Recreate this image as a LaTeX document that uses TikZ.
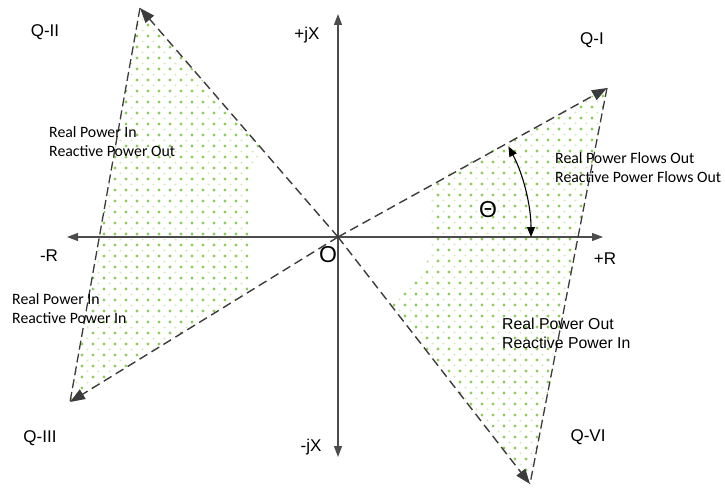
\documentclass[tikz,border=0pt]{standalone}
\usepackage{fontspec}
\setmainfont{Liberation Sans}
\newfontfamily\calfont{Carlito}
\usepackage{tikz}
\usetikzlibrary{arrows.meta, calc}
\definecolor{dotgreen}{HTML}{8FCC5C}
\definecolor{raygray}{HTML}{3C3C3C}
\tikzset{
  axisline/.style={draw=black!70, line width=1.1pt, -{Triangle[length=11pt,width=8pt]}},
  rayline/.style={draw=raygray, line width=1.4pt, dash pattern=on 9pt off 5pt, -{Triangle[length=15pt,width=11pt]}},
  edgeline/.style={draw=raygray, line width=1.3pt, dash pattern=on 9pt off 4pt},
  quadlbl/.style={font=\fontsize{17}{17}\selectfont, inner sep=0pt},
  axislbl/.style={font=\fontsize{17}{17}\selectfont, inner sep=0pt},
  flowlbl/.style={font=\calfont\fontsize{15.8}{19}\selectfont, align=left, anchor=north west, inner sep=0pt},
  flowlblb/.style={font=\fontsize{15.8}{19}\selectfont, align=left, anchor=north west, inner sep=0pt}
}
\begin{document}
\begin{tikzpicture}[x=1pt, y=-1pt]
  \useasboundingbox (0,0) rectangle (725,489);
  % key points
  \coordinate (O) at (338,237);
  \coordinate (q1) at (607,88);
  \coordinate (q2) at (140,8);
  \coordinate (q3) at (70,402);
  \coordinate (q6) at (530,484);
  \coordinate (xl) at (67,237);
  \coordinate (xr) at (603,237);
  \coordinate (yt) at (338,14);
  \coordinate (yb) at (338,457);
  % dotted fill, left
  \begin{scope}
    \clip (q2) -- (262,149) -- (248,172) -- (248,292) -- (q3) -- cycle;
    \foreach \i in {0,...,19} {
      \foreach \j in {0,...,37} {
        \fill[dotgreen] (60+\i*11,3+\j*11) circle (1.7pt);
        \fill[dotgreen!40] (65.5+\i*11,8.5+\j*11) circle (1.2pt);
      }
    }
  \end{scope}
  % dotted fill, right
  \begin{scope}
    \clip (q1) -- (430,184) -- (430,258) -- (392,306) -- (q6) -- cycle;
    \foreach \i in {0,...,21} {
      \foreach \j in {0,...,37} {
        \fill[dotgreen] (383+\i*11,85+\j*11) circle (1.7pt);
        \fill[dotgreen!40] (388.5+\i*11,90.5+\j*11) circle (1.2pt);
      }
    }
  \end{scope}
  % axes
  \draw[axisline] (O) -- (xr);
  \draw[axisline] (O) -- (xl);
  \draw[axisline] (O) -- (yt);
  \draw[axisline] (O) -- (yb);
  % boundary lines
  \draw[edgeline] (q2) -- (q3);
  \draw[edgeline] (q1) -- (q6);
  \draw[rayline] (O) -- (q1);
  \draw[rayline] (O) -- (q2);
  \draw[rayline] (O) -- (q3);
  \draw[rayline] (O) -- (q6);
  % angle
  \draw[black, line width=1.1pt, {Triangle[length=10pt,width=8pt]}-{Triangle[length=10pt,width=8pt]}]
    ($(O)+(28:193pt)$) arc[start angle=28, end angle=0, radius=193pt];
  % labels
  \node[quadlbl] (qi) at (592,40) {Q-I};
  \node[quadlbl] (qii) at (45,32) {Q-II};
  \node[quadlbl] (qiii) at (40,438) {Q-III};
  \node[quadlbl] (qvi) at (588,437) {Q-VI};
  \node[axislbl] (pjx) at (307,35) {+jX};
  \node[axislbl] (mjx) at (311,447) {-jX};
  \node[axislbl] (pr) at (605,259) {+R};
  \node[axislbl] (mr) at (49,256) {-R};
  \node[font=\fontsize{23}{23}\selectfont, inner sep=0pt] (olbl) at (328,255) {O};
  \node[font=\fontsize{23}{23}\selectfont, inner sep=0pt] (theta) at (488,210) {Θ};
  \node[flowlbl] (inout) at (49,126) {Real Power In\\Reactive Power Out};
  \node[flowlbl] (inin) at (12,293) {Real Power In\\Reactive Power In};
  \node[flowlbl] (outout) at (555,152) {Real Power Flows Out\\Reactive Power Flows Out};
  \node[flowlblb] (outin) at (502,318) {Real Power Out\\Reactive Power In};
\end{tikzpicture}
\end{document}
